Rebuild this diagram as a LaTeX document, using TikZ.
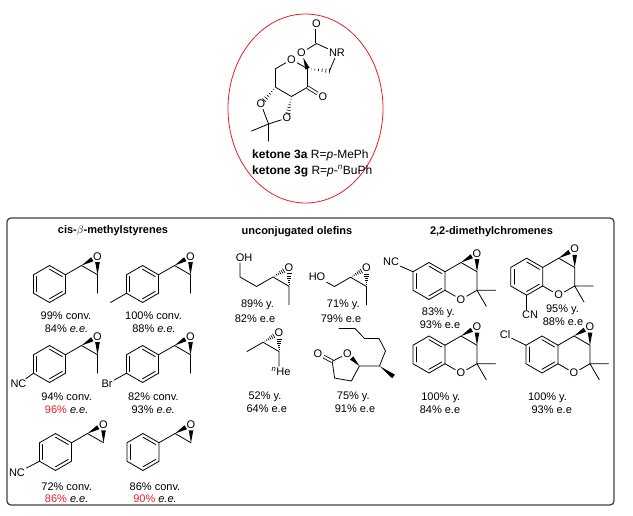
\documentclass[tikz,border=0pt]{standalone}
\usepackage{fontspec}
\setmainfont{Liberation Sans}
\usetikzlibrary{calc}

\definecolor{eered}{RGB}{236,28,36}
\definecolor{boxgray}{RGB}{64,64,64}

% inner line of a ring double bond (#3 = ring centre)
\newcommand{\innerbond}[3]{\draw[bond] ($(#1)!0.2!(#3)$) -- ($(#2)!0.2!(#3)$);}
% bold wedge, narrow at #1, wide at #2, trimmed by #3 and #4
\newcommand{\wedgeb}[4]{%
  \coordinate (wa) at ($(#1)!#3!(#2)$);
  \coordinate (wb) at ($(#2)!#4!(#1)$);
  \fill (wa) -- ($(wb)!2.3pt!90:(wa)$) -- ($(wb)!2.3pt!-90:(wa)$) -- cycle;}
% hashed wedge
\newcommand{\hashb}[4]{%
  \coordinate (wa) at ($(#1)!#3!(#2)$);
  \coordinate (wb) at ($(#2)!#4!(#1)$);
  \coordinate (wl) at ($(wb)!2.5pt!90:(wa)$);
  \coordinate (wr) at ($(wb)!2.5pt!-90:(wa)$);
  \foreach \k in {1,...,6} \draw[hash] ($(wa)!{\k/6}!(wl)$) -- ($(wa)!{\k/6}!(wr)$);}
% benzene ring #1 centred at #2
\newcommand{\benzring}[2]{%
  \coordinate (#1) at (#2);
  \coordinate (#1t)  at ($(#1)+(0,-18.5)$);
  \coordinate (#1ur) at ($(#1)+(16,-9.25)$);
  \coordinate (#1lr) at ($(#1)+(16,9.25)$);
  \coordinate (#1b)  at ($(#1)+(0,18.5)$);
  \coordinate (#1ll) at ($(#1)+(-16,9.25)$);
  \coordinate (#1ul) at ($(#1)+(-16,-9.25)$);
  \draw[bond] (#1t) -- (#1ur) -- (#1lr) -- (#1b) -- (#1ll) -- (#1ul) -- cycle;
  \innerbond{#1ul}{#1ll}{#1}
  \innerbond{#1t}{#1ur}{#1}
  \innerbond{#1b}{#1lr}{#1}}
% epoxide on ring #1
\newcommand{\epoxide}[1]{%
  \coordinate (#1c1) at ($(#1)+(32,-18.5)$);
  \coordinate (#1c2) at ($(#1)+(48,-9.25)$);
  \node[atom] (#1o) at ($(#1)+(48,-27.75)$) {O};
  \draw[bond] (#1ur) -- (#1c1) -- (#1c2);
  \wedgeb{#1c1}{#1o}{0pt}{6pt}
  \wedgeb{#1c2}{#1o}{0pt}{6pt}}
% chromene epoxide on ring #1
\newcommand{\chromene}[1]{%
  \coordinate (#1c4) at ($(#1)+(32,-18.5)$);
  \coordinate (#1c3) at ($(#1)+(48,-9.25)$);
  \coordinate (#1c2) at ($(#1)+(48,9.25)$);
  \node[atom] (#1o1) at ($(#1)+(32,18.5)$) {O};
  \node[atom] (#1oe) at ($(#1)+(48,-27.75)$) {O};
  \coordinate (#1m1) at ($(#1c2)+(18.5,0)$);
  \coordinate (#1m2) at ($(#1c2)+(9.25,16)$);
  \draw[bond] (#1ur) -- (#1c4) -- (#1c3) -- (#1c2);
  \draw[bond] (#1c2) -- (#1o1);
  \draw[bond] (#1o1) -- (#1lr);
  \draw[bond] (#1m1) -- (#1c2) -- (#1m2);
  \wedgeb{#1c4}{#1oe}{0pt}{6pt}
  \wedgeb{#1c3}{#1oe}{0pt}{6pt}}

\begin{document}
\begin{tikzpicture}[x=1pt, y=-1pt, font=\fontsize{11}{13}\selectfont]
  \tikzstyle{bond}=[line width=0.8pt, line cap=round]
  \tikzstyle{dbl}=[line width=0.8pt, double, double distance=2pt]
  \tikzstyle{hash}=[line width=0.6pt]
  \tikzstyle{atom}=[inner sep=1.2pt]
  \tikzstyle{res}=[inner sep=0pt]
  \tikzstyle{title}=[inner sep=0pt, font=\fontsize{11}{13}\selectfont\bfseries]

  \useasboundingbox (0,0) rectangle (633,516);

  % ketone
  \draw[eered, line width=0.8pt] (305.5,108.5) ellipse [x radius=77.5pt, y radius=94.5pt];
  \node[atom] (pO) at (291.5,59.5) {O};
  \coordinate (cS) at (307.5,68.75);
  \coordinate (cK) at (307.5,87.25);
  \coordinate (cB) at (291.5,96.5);
  \coordinate (cL) at (275.5,87.25);
  \coordinate (cU) at (275.5,68.75);
  \node[atom] (kO) at (323,97) {O};
  \node[atom] (oO) at (301.5,53) {O};
  \coordinate (cC) at (316.5,43.5);
  \node[atom] (tO) at (316.5,24) {O};
  \node[atom] (nR) at (337,53) {NR};
  \coordinate (cM) at (329.5,71);
  \node[atom] (aOl) at (261,104) {O};
  \node[atom] (aOr) at (287,118) {O};
  \coordinate (aC) at (268.5,124);
  \coordinate (me1) at (251.5,131);
  \coordinate (me2) at (268.5,141);
  \draw[bond] (cS) -- (pO);
  \draw[bond] (pO) -- (cU) -- (cL) -- (cB) -- (cK) -- (cS);
  \draw[dbl] (cK) -- (kO);
  \draw[bond] (oO) -- (cC) -- (nR);
  \draw[bond] (nR) -- (cM);
  \draw[dbl] (cC) -- (tO);
  \wedgeb{oO}{cS}{5pt}{0pt}
  \hashb{cS}{cM}{0pt}{0pt}
  \hashb{cL}{aOl}{0pt}{5pt}
  \hashb{cB}{aOr}{0pt}{5pt}
  \draw[bond] (aOl) -- (aC);
  \draw[bond] (aOr) -- (aC);
  \draw[bond] (me1) -- (aC) -- (me2);
  \node[anchor=west, inner sep=0pt, font=\fontsize{12}{14}\selectfont] (k3a) at (252,155) {\textbf{ketone 3a} R=\textit{p}-MePh};
  \node[anchor=west, inner sep=0pt, font=\fontsize{12}{14}\selectfont] (k3g) at (252,171) {\textbf{ketone 3g} R=\textit{p}-\textsuperscript{\textit{n}}BuPh};

  % frame and titles
  \draw[boxgray, line width=1.3pt, rounded corners=4pt] (7,218) rectangle (614,505);
  \node[title] (t1) at (113,231) {cis-$\beta$-methylstyrenes};
  \node[title] (t2) at (297,232) {unconjugated olefins};
  \node[title] (t3) at (491.5,232) {2,2-dimethylchromenes};

  % cis-beta-methylstyrenes
  \benzring{s1}{49.5,284} \epoxide{s1}
  \coordinate (s1me) at ($(s1c2)+(0,18.5)$);
  \draw[bond] (s1c2) -- (s1me);

  \benzring{s2}{142.5,284} \epoxide{s2}
  \coordinate (s2me) at ($(s2c2)+(0,18.5)$);
  \coordinate (s2p) at ($(s2ll)+(-16,9.25)$);
  \draw[bond] (s2c2) -- (s2me);
  \draw[bond] (s2ll) -- (s2p);

  \benzring{s3}{49.5,364} \epoxide{s3}
  \coordinate (s3me) at ($(s3c2)+(0,18.5)$);
  \node[atom] (s3nc) at (18.5,384) {NC};
  \draw[bond] (s3c2) -- (s3me);
  \draw[bond] (s3ll) -- (s3nc);

  \benzring{s4}{142.5,364} \epoxide{s4}
  \coordinate (s4me) at ($(s4c2)+(0,18.5)$);
  \node[atom] (s4br) at (107,384) {Br};
  \draw[bond] (s4c2) -- (s4me);
  \draw[bond] (s4ll) -- (s4br);

  \benzring{s5}{55.5,452} \epoxide{s5}
  \node[atom] (s5nc) at (17,473) {NC};
  \draw[bond] (s5ll) -- (s5nc);

  \benzring{s6}{143,452} \epoxide{s6}

  \node[res] (r1a) at (66,316) {99\% conv.};
  \node[res] (r1b) at (66.5,329) {84\% \textit{e.e.}};
  \node[res] (r2a) at (153.5,316) {100\% conv.};
  \node[res] (r2b) at (154,329) {88\% \textit{e.e.}};
  \node[res] (r3a) at (66.7,396.5) {94\% conv.};
  \node[res] (r3b) at (66.7,409.5) {\textcolor{eered}{96\%} \textit{e.e.}};
  \node[res] (r4a) at (153.3,396.5) {82\% conv.};
  \node[res] (r4b) at (153.3,409.5) {93\% \textit{e.e.}};
  \node[res] (r5a) at (66.7,486.5) {72\% conv.};
  \node[res] (r5b) at (66.7,499) {\textcolor{eered}{86\%} \textit{e.e.}};
  \node[res] (r6a) at (155,486.5) {86\% conv.};
  \node[res] (r6b) at (155,499) {\textcolor{eered}{90\%} \textit{e.e.}};

  % unconjugated olefins
  \node[atom] (u1oh) at (244,258) {OH};
  \coordinate (u1a) at (240,277);
  \coordinate (u1b) at (256.5,286.5);
  \coordinate (u1c1) at (273,277);
  \node[atom] (u1o) at (289,267.75) {O};
  \coordinate (u1c2) at (289,286.25);
  \coordinate (u1me) at (289,304.75);
  \draw[bond] (u1a |- u1oh.south) -- (u1a) -- (u1b) -- (u1c1) -- (u1c2) -- (u1me);
  \hashb{u1c1}{u1o}{0pt}{6pt}
  \hashb{u1c2}{u1o}{0pt}{6pt}

  \node[atom] (u2ho) at (317,277) {HO};
  \coordinate (u2a) at (334.5,286.5);
  \coordinate (u2c1) at (350.5,277.25);
  \node[atom] (u2o) at (366.5,268) {O};
  \coordinate (u2c2) at (366.5,286.5);
  \coordinate (u2me) at (366.5,305);
  \draw[bond] (u2ho) -- (u2a) -- (u2c1) -- (u2c2) -- (u2me);
  \hashb{u2c1}{u2o}{0pt}{6pt}
  \hashb{u2c2}{u2o}{0pt}{6pt}

  \node[atom] (u3o) at (279,333) {O};
  \coordinate (u3c1) at (263,342.25);
  \coordinate (u3c2) at (279,351.5);
  \coordinate (u3me) at (247,351.5);
  \node[inner sep=1pt] (u3he) at (281,371.5) {\textsuperscript{\textit{n}}He};
  \draw[bond] (u3me) -- (u3c1) -- (u3c2) -- (u3c2 |- u3he.north);
  \hashb{u3c1}{u3o}{0pt}{6pt}
  \hashb{u3c2}{u3o}{0pt}{6pt}

  \node[atom] (lO) at (347.5,353.7) {O};
  \coordinate (l5) at (359.4,366);
  \coordinate (l3) at (351.4,381);
  \coordinate (l4) at (334.6,378.1);
  \coordinate (lC) at (332.2,361.2);
  \node[atom] (lCO) at (318,353.7) {O};
  \coordinate (c6) at (379.5,366);
  \coordinate (lme) at (393.5,376.5);
  \coordinate (c7) at (385.5,351);
  \coordinate (c8) at (379,338.5);
  \coordinate (c9) at (364.5,338.5);
  \coordinate (c10) at (355,328.5);
  \coordinate (c11) at (339,328.5);
  \draw[bond] (lO) -- (lC) -- (l4) -- (l3) -- (l5) -- (c6);
  \draw[dbl] (lC) -- (lCO);
  \draw[bond] (c6) -- (c7) -- (c8) -- (c9) -- (c10) -- (c11);
  \wedgeb{l5}{lO}{0pt}{6pt}
  \wedgeb{c6}{lme}{0pt}{0pt}

  \node[res] (u1y) at (257.5,305) {89\% y.};
  \node[res] (u1e) at (255,319) {82\% e.e};
  \node[res] (u2y) at (343.3,305) {71\% y.};
  \node[res] (u2e) at (341,319) {79\% e.e};
  \node[res] (u3y) at (265,396.7) {52\% y.};
  \node[res] (u3e) at (266.7,409) {64\% e.e};
  \node[res] (u4y) at (353.3,396.7) {75\% y.};
  \node[res] (u4e) at (355,409) {91\% e.e};

  % 2,2-dimethylchromenes
  \benzring{h1}{429,281} \chromene{h1}
  \node[atom] (h1nc) at (391,262) {NC};
  \draw[bond] (h1ul) -- (h1nc);

  \benzring{h2}{526.7,276.7} \chromene{h2}
  \node[atom] (h2cn) at (530,315) {CN};
  \draw[bond] (h2b) -- (h2b |- h2cn.north);

  \benzring{h3}{429,354.5} \chromene{h3}

  \benzring{h4}{542,354.5} \chromene{h4}
  \node[atom] (h4cl) at (505,335) {Cl};
  \draw[bond] (h4ul) -- (h4cl);

  \node[res] (h1y) at (438.3,313.3) {83\% y.};
  \node[res] (h1e) at (440,325) {93\% e.e};
  \node[res] (h2y) at (562.5,310) {95\% y.};
  \node[res] (h2e) at (563,321.7) {88\% e.e};
  \node[res] (h3y) at (440.8,397.7) {100\% y.};
  \node[res] (h3e) at (440,409.3) {84\% e.e};
  \node[res] (h4y) at (547.5,397.7) {100\% y.};
  \node[res] (h4e) at (551.7,409.3) {93\% e.e};
\end{tikzpicture}
\end{document}
